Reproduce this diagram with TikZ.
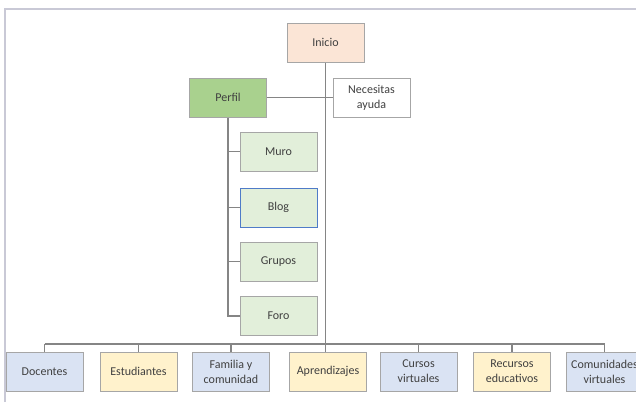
\documentclass[tikz,border=0pt]{standalone}
\usepackage{fontspec}
\setmainfont{Carlito}
\definecolor{lnGrey}{HTML}{858585}
\definecolor{boxGrey}{HTML}{A6A6A6}
\definecolor{txtGrey}{HTML}{404040}
\definecolor{frameGrey}{HTML}{C9C9D6}
\definecolor{peach}{HTML}{FBE5D6}
\definecolor{leaf}{HTML}{A9D18E}
\definecolor{paleLeaf}{HTML}{E2EFDA}
\definecolor{paleBlue}{HTML}{DAE3F3}
\definecolor{paleSand}{HTML}{FFF2CC}
\definecolor{blogBlue}{HTML}{4F7BC8}
\begin{document}
\begin{tikzpicture}[x=1pt,y=-1pt,
	box/.style={draw=boxGrey,line width=1pt,minimum width=77pt,minimum height=39pt,
		inner sep=1pt,align=center,text=txtGrey,font=\fontsize{12}{15}\selectfont},
	link/.style={draw=lnGrey,line width=1.1pt}]
	    \useasboundingbox (0,0) rectangle (636,402);
	    \clip (0,0) rectangle (636,402);
	    \draw[frameGrey,line width=1.2pt](5,402)--(5,9)--(636,9);
	    % top and side boxes
	    \node[box,fill=peach] (inicio) at (325.5,42.5) {Inicio};
	    \node[box,fill=leaf] (perfil) at (228,97.5) {Perfil};
	    \node[box,fill=white] (ayuda) at (371.5,97.5) {Necesitas\\ayuda};
	    \node[box,fill=paleLeaf] (muro) at (278.5,151.5) {Muro};
	    \node[box,fill=paleLeaf,draw=blogBlue] (blog) at (278.5,207.5) {Blog};
	    \node[box,fill=paleLeaf] (grupos) at (278.5,261.5) {Grupos};
	    \node[box,fill=paleLeaf] (foro) at (278.5,316) {Foro};
	    % bottom row
	    \node[box,fill=paleBlue] (docentes) at (44.5,371.5) {Docentes};
	    \node[box,fill=paleSand] (estudiantes) at (138.5,371.5) {Estudiantes};
	    \node[box,fill=paleBlue] (familia) at (231,371.5) {Familia y\\comunidad};
	    \node[box,fill=paleSand] (aprendizajes) at (328,371.5) {Aprendizajes};
	    \node[box,fill=paleBlue] (cursos) at (418.5,371.5) {Cursos\\virtuales};
	    \node[box,fill=paleSand] (recursos) at (512,371.5) {Recursos\\educativos};
	    \node[box,fill=paleBlue] (comunidades) at (604.5,371.5) {Comunidades\\virtuales};
	    \coordinate (bus) at (0,344);
	    % connectors
	    \draw[link](perfil.east)--(ayuda.west);
	    \draw[link](inicio.south)--(inicio.south |- aprendizajes.north);
	    \draw[link](docentes.north |- bus)--(comunidades.north |- bus);
	    \foreach \n in {docentes,estudiantes,familia,cursos,recursos,comunidades}
	        \draw[link](\n.north |- bus)--(\n.north);
	    \draw[link](perfil.south)--(perfil.south |- foro.west)--(foro.west);
	    \foreach \n in {muro,blog,grupos}
	        \draw[link](perfil.south |- \n.west)--(\n.west);
\end{tikzpicture}
\end{document}
